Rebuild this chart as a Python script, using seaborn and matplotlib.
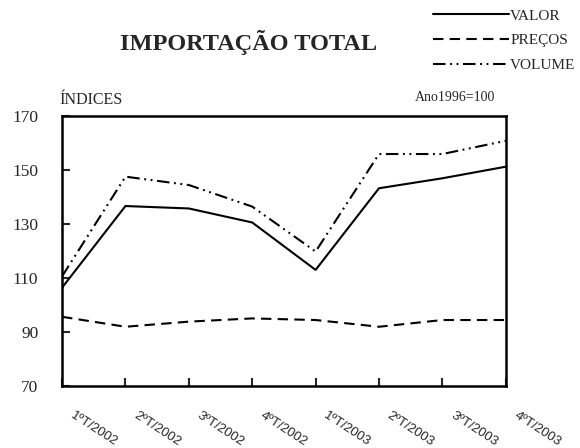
import numpy as np
import pandas as pd
import matplotlib
matplotlib.use("Agg")
import matplotlib.pyplot as plt
import matplotlib.transforms as mtransforms
import seaborn as sns

# Dados (índices, ano 1996 = 100)
trimestres = ["1ºT/2002", "2ºT/2002", "3ºT/2002", "4ºT/2002",
              "1ºT/2003", "2ºT/2003", "3ºT/2003", "4ºT/2003"]
valor = [106.3, 136.6, 135.7, 130.5, 112.9, 143.2, 146.9, 151.2]
precos = [95.5, 91.8, 93.7, 94.9, 94.3, 91.8, 94.3, 94.3]
volume = [110.5, 147.5, 144.4, 136.4, 119.7, 155.9, 155.9, 160.8]
series = ["VALOR", "PREÇOS", "VOLUME"]
y_ticks = [70, 90, 110, 130, 150, 170]

sns.set_theme(style="white")
plt.rcParams["font.family"] = ["Liberation Serif", "DejaVu Serif"]

df = pd.DataFrame({
    "pos": list(range(len(trimestres))) * 3,
    "indice": valor + precos + volume,
    "serie": np.repeat(series, len(trimestres)),
})

fig = plt.figure(figsize=(5.8, 4.48), dpi=100)
ax = fig.add_axes([0.107, 0.1395, 0.765, 0.6015])

estilos = {
    "VALOR": "",
    "PREÇOS": (5, 3),
    "VOLUME": (6, 2.2, 0.9, 2.2, 0.9, 2.2),
}
sns.lineplot(data=df, x="pos", y="indice", style="serie", style_order=series,
             dashes=estilos, color="black", linewidth=1.5, ax=ax, legend=True)

ax.set_xlim(0, len(trimestres) - 1)
ax.set_ylim(70, 170)
ax.set_xlabel("")
ax.set_ylabel("")

for s in ax.spines.values():
    s.set_visible(True)
    s.set_color("black")
    s.set_linewidth(1.8)

ax.set_yticks(y_ticks)
ax.set_yticklabels([str(v) for v in y_ticks], fontsize=12.5)
ax.set_xticks(range(len(trimestres)))
ax.set_xticklabels(trimestres, rotation=-33, ha="left", va="top",
                   rotation_mode="anchor", fontsize=9.5,
                   family=["Liberation Sans", "DejaVu Sans"])
ax.tick_params(axis="y", direction="in", length=6, width=1.5, pad=17,
               left=True, right=False)
ax.tick_params(axis="x", direction="in", length=6, width=1.5, pad=17,
               bottom=True, top=False)
ax.grid(False)

# desloca os rótulos do eixo x um pouco para a direita
desloc = mtransforms.ScaledTranslation(9 / 72, 0, fig.dpi_scale_trans)
for lab in ax.get_xticklabels():
    lab.set_transform(lab.get_transform() + desloc)

# legenda no canto superior direito
h, l = ax.get_legend_handles_labels()
ax.get_legend().remove()
fig.legend(h, l, loc="upper right", bbox_to_anchor=(1.0, 0.99),
           frameon=False, fontsize=11, handlelength=5.0,
           handletextpad=0.05, labelspacing=0.72, borderpad=0.3,
           borderaxespad=0.0)

fig.text(0.428, 0.905, "IMPORTAÇÃO TOTAL", ha="center", va="center",
         fontsize=17.5, fontweight="bold")
fig.text(0.103, 0.776, "ÍNDICES", ha="left", va="center", fontsize=11.5)
fig.text(0.715, 0.782, "Ano1996=100", ha="left", va="center", fontsize=10)

fig.savefig("out.png", dpi=100)
